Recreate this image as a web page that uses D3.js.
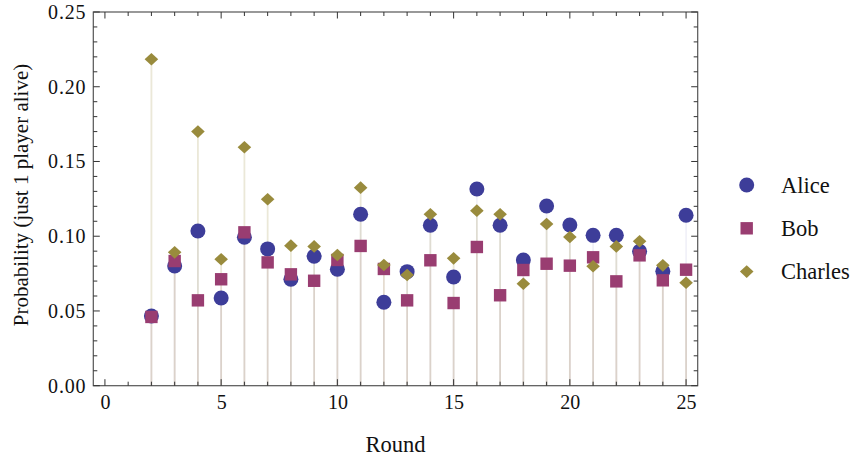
<!DOCTYPE html>
<html><head><meta charset="utf-8">
<script src="https://cdn.jsdelivr.net/npm/d3@7"></script>
<style>body{margin:0;background:#fff}svg{display:block}text{font-family:"Liberation Serif","DejaVu Serif",serif;fill:#111}</style>
</head><body>
<svg id="c" width="860" height="462"></svg>
<script>
const rounds = [2,3,4,5,6,7,8,9,10,11,12,13,14,15,16,17,18,19,20,21,22,23,24,25];
const alice = [0.0466,0.0801,0.1035,0.0587,0.0993,0.0915,0.0712,0.0866,0.0779,0.1147,0.0558,0.0763,0.1073,0.0727,0.1316,0.1073,0.0841,0.1202,0.1075,0.1006,0.1006,0.0899,0.0765,0.1140];
const bob = [0.0460,0.0834,0.0571,0.0712,0.1026,0.0825,0.0745,0.0702,0.0841,0.0935,0.0781,0.0571,0.0839,0.0553,0.0928,0.0605,0.0774,0.0816,0.0803,0.0859,0.0698,0.0872,0.0705,0.0776];
const charles = [0.2184,0.0892,0.1700,0.0846,0.1595,0.1247,0.0937,0.0932,0.0874,0.1325,0.0807,0.0741,0.1147,0.0852,0.1171,0.1147,0.0682,0.1082,0.0995,0.0799,0.0932,0.0966,0.0805,0.0689];
const seriesNames = ["Alice","Bob","Charles"];
const xTicks = [0,5,10,15,20,25];
const yTicks = [0,0.05,0.10,0.15,0.20,0.25];

const colors = ["#3d3d99","#993d71","#998b3d"];
const stemOpacity = [0.07,0.07,0.2];
const svg = d3.select("#c");
const L=93.3, R=697.7, T=12, B=385.7;
const x = d3.scaleLinear().domain([-0.5,25.5]).range([L,R]);
const y = d3.scaleLinear().domain([0,0.25]).range([B,T]);
const series = [alice,bob,charles];

// stems
series.forEach((s,k)=>{
  svg.append("g").selectAll("line").data(rounds).join("line")
    .attr("x1",d=>x(d)).attr("x2",d=>x(d))
    .attr("y1",y(0)).attr("y2",(d,i)=>y(s[i]))
    .attr("stroke",colors[k]).attr("stroke-opacity",stemOpacity[k]).attr("stroke-width",1.8);
});

function drawMark(g, k, cx, cy){
  if(k===0) g.append("circle").attr("cx",cx).attr("cy",cy).attr("r",7.5).attr("fill",colors[0]);
  else if(k===1) g.append("rect").attr("x",cx-6.2).attr("y",cy-6.2).attr("width",12.4).attr("height",12.4).attr("fill",colors[1]);
  else g.append("path").attr("d",`M${cx},${cy-6.3}L${cx+6.8},${cy}L${cx},${cy+6.3}L${cx-6.8},${cy}Z`).attr("fill",colors[2]);
}
series.forEach((s,k)=>{
  const g = svg.append("g");
  rounds.forEach((r,i)=>drawMark(g,k,x(r),y(s[i])));
});

// frame
svg.append("rect").attr("x",L).attr("y",T).attr("width",R-L).attr("height",B-T)
  .attr("fill","none").attr("stroke","#555").attr("stroke-width",1.2);

const tk = svg.append("g").attr("stroke","#333").attr("stroke-width",1);
d3.range(0,26).forEach(v=>{
  const len = v%5===0?6.5:4;
  tk.append("line").attr("x1",x(v)).attr("x2",x(v)).attr("y1",B).attr("y2",B-len);
  tk.append("line").attr("x1",x(v)).attr("x2",x(v)).attr("y1",T).attr("y2",T+len);
});
d3.range(0,26).forEach(j=>{
  const v=j*0.01, len = j%5===0?6.5:4;
  tk.append("line").attr("x1",L).attr("x2",L+len).attr("y1",y(v)).attr("y2",y(v));
  tk.append("line").attr("x1",R).attr("x2",R-len).attr("y1",y(v)).attr("y2",y(v));
});

// tick labels via d3 axes
const xAxis = d3.axisBottom(x).tickValues(xTicks).tickSize(0).tickPadding(9);
const gx = svg.append("g").attr("transform",`translate(0,${B})`).call(xAxis);
gx.select(".domain").remove();
gx.selectAll("text").attr("font-size",20).attr("fill","#111").attr("font-family","Liberation Serif");
const yAxis = d3.axisLeft(y).tickValues(yTicks).tickFormat(d3.format(".2f")).tickSize(0).tickPadding(7);
const gy = svg.append("g").attr("transform",`translate(${L},0)`).call(yAxis);
gy.select(".domain").remove();
gy.selectAll("text").attr("font-size",20).attr("fill","#111").attr("font-family","Liberation Serif").attr("letter-spacing",0.8);

svg.append("text").attr("x",(L+R)/2).attr("y",452).attr("text-anchor","middle").attr("font-size",22.5).text("Round");
svg.append("text").attr("transform",`translate(28,195) rotate(-90)`).attr("text-anchor","middle").attr("font-size",21).text("Probability (just 1 player alive)");

// legend
seriesNames.forEach((n,k)=>{
  const cy = 185 + k*43.3;
  drawMark(svg.append("g"),k,746.7,cy);
  svg.append("text").attr("x",781).attr("y",cy+7.5).attr("font-size",22.5).text(n);
});
</script>
</body></html>
